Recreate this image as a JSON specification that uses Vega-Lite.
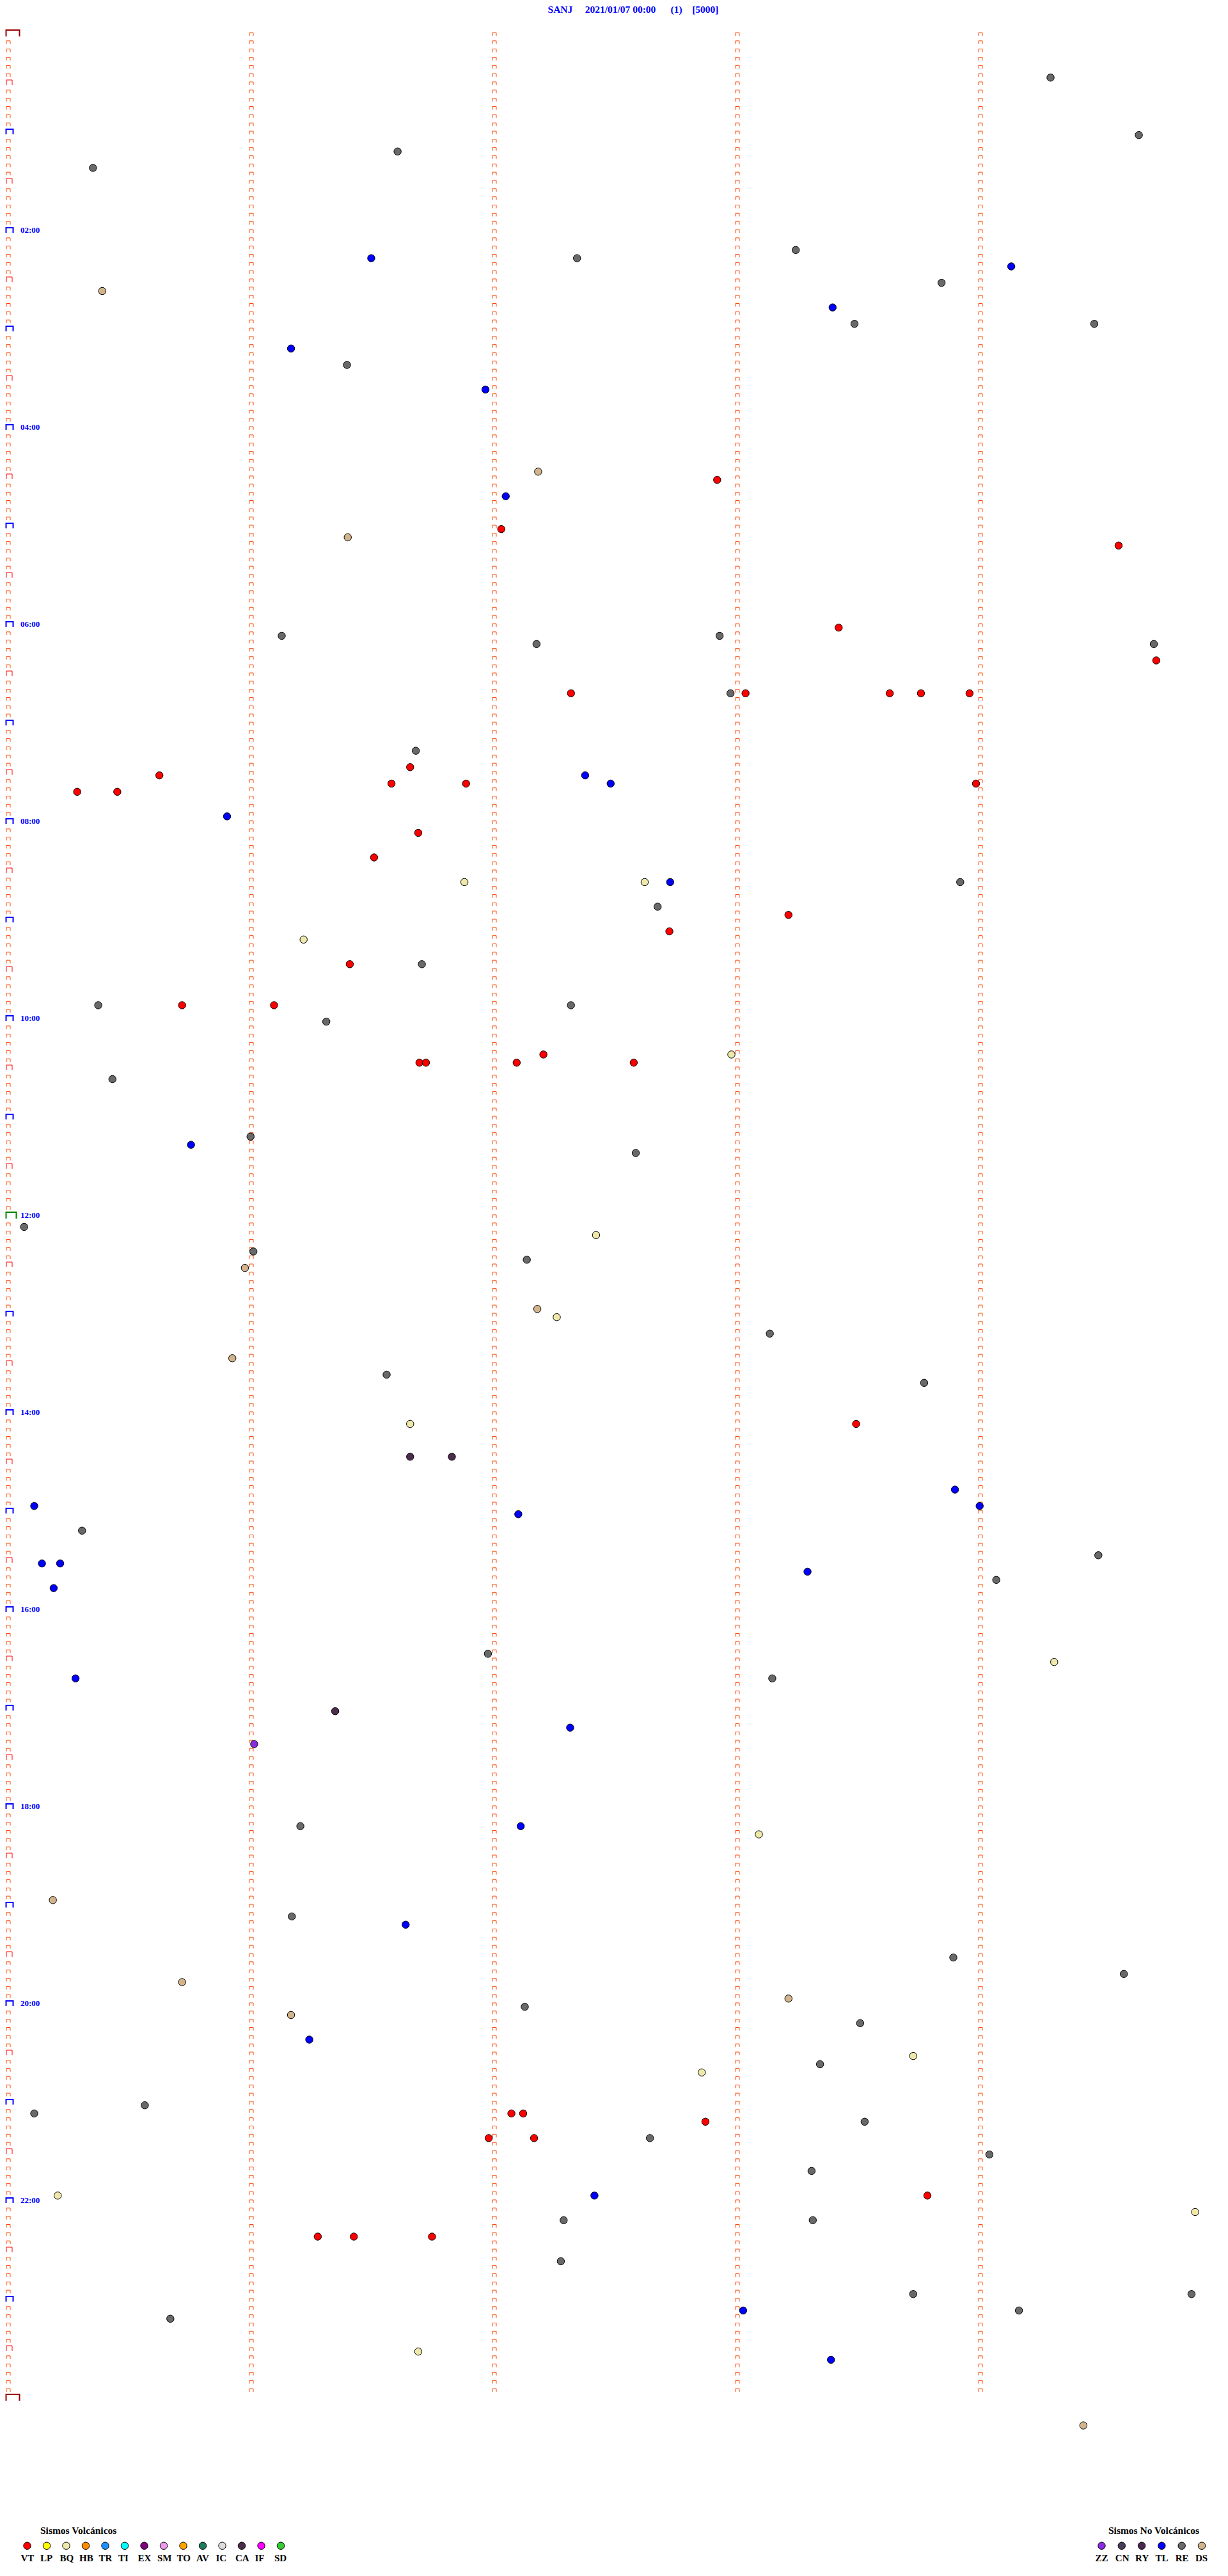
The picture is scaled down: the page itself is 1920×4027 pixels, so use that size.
{
  "$schema": "https://vega.github.io/schema/vega-lite/v6.json",
  "width": 1920,
  "height": 4027,
  "autosize": {"type": "none"},
  "padding": 0,
  "background": "white",
  "config": {"view": {"stroke": null}, "axis": {"disable": true}},
  "title": {
    "text": "SANJ\u00a0\u00a0\u00a0\u00a0\u00a02021/01/07 00:00\u00a0\u00a0\u00a0\u00a0\u00a0\u00a0(1)\u00a0\u00a0\u00a0\u00a0[5000]",
    "orient": "top", "anchor": "middle", "frame": "group", "offset": 0, "dy": 35, "baseline": "alphabetic", "dx": 30,
    "font": "Liberation Serif", "fontSize": 15.5, "fontWeight": "bold", "color": "#0000FF"
  },
  "datasets": {
    "rows": [
      {"m":0},{"m":5},{"m":10},{"m":15},{"m":20},{"m":25},{"m":30},{"m":35},{"m":40},{"m":45},{"m":50},{"m":55},
      {"m":60},{"m":65},{"m":70},{"m":75},{"m":80},{"m":85},{"m":90},{"m":95},{"m":100},{"m":105},{"m":110},{"m":115},
      {"m":120},{"m":125},{"m":130},{"m":135},{"m":140},{"m":145},{"m":150},{"m":155},{"m":160},{"m":165},{"m":170},{"m":175},
      {"m":180},{"m":185},{"m":190},{"m":195},{"m":200},{"m":205},{"m":210},{"m":215},{"m":220},{"m":225},{"m":230},{"m":235},
      {"m":240},{"m":245},{"m":250},{"m":255},{"m":260},{"m":265},{"m":270},{"m":275},{"m":280},{"m":285},{"m":290},{"m":295},
      {"m":300},{"m":305},{"m":310},{"m":315},{"m":320},{"m":325},{"m":330},{"m":335},{"m":340},{"m":345},{"m":350},{"m":355},
      {"m":360},{"m":365},{"m":370},{"m":375},{"m":380},{"m":385},{"m":390},{"m":395},{"m":400},{"m":405},{"m":410},{"m":415},
      {"m":420},{"m":425},{"m":430},{"m":435},{"m":440},{"m":445},{"m":450},{"m":455},{"m":460},{"m":465},{"m":470},{"m":475},
      {"m":480},{"m":485},{"m":490},{"m":495},{"m":500},{"m":505},{"m":510},{"m":515},{"m":520},{"m":525},{"m":530},{"m":535},
      {"m":540},{"m":545},{"m":550},{"m":555},{"m":560},{"m":565},{"m":570},{"m":575},{"m":580},{"m":585},{"m":590},{"m":595},
      {"m":600},{"m":605},{"m":610},{"m":615},{"m":620},{"m":625},{"m":630},{"m":635},{"m":640},{"m":645},{"m":650},{"m":655},
      {"m":660},{"m":665},{"m":670},{"m":675},{"m":680},{"m":685},{"m":690},{"m":695},{"m":700},{"m":705},{"m":710},{"m":715},
      {"m":720},{"m":725},{"m":730},{"m":735},{"m":740},{"m":745},{"m":750},{"m":755},{"m":760},{"m":765},{"m":770},{"m":775},
      {"m":780},{"m":785},{"m":790},{"m":795},{"m":800},{"m":805},{"m":810},{"m":815},{"m":820},{"m":825},{"m":830},{"m":835},
      {"m":840},{"m":845},{"m":850},{"m":855},{"m":860},{"m":865},{"m":870},{"m":875},{"m":880},{"m":885},{"m":890},{"m":895},
      {"m":900},{"m":905},{"m":910},{"m":915},{"m":920},{"m":925},{"m":930},{"m":935},{"m":940},{"m":945},{"m":950},{"m":955},
      {"m":960},{"m":965},{"m":970},{"m":975},{"m":980},{"m":985},{"m":990},{"m":995},{"m":1000},{"m":1005},{"m":1010},{"m":1015},
      {"m":1020},{"m":1025},{"m":1030},{"m":1035},{"m":1040},{"m":1045},{"m":1050},{"m":1055},{"m":1060},{"m":1065},{"m":1070},{"m":1075},
      {"m":1080},{"m":1085},{"m":1090},{"m":1095},{"m":1100},{"m":1105},{"m":1110},{"m":1115},{"m":1120},{"m":1125},{"m":1130},{"m":1135},
      {"m":1140},{"m":1145},{"m":1150},{"m":1155},{"m":1160},{"m":1165},{"m":1170},{"m":1175},{"m":1180},{"m":1185},{"m":1190},{"m":1195},
      {"m":1200},{"m":1205},{"m":1210},{"m":1215},{"m":1220},{"m":1225},{"m":1230},{"m":1235},{"m":1240},{"m":1245},{"m":1250},{"m":1255},
      {"m":1260},{"m":1265},{"m":1270},{"m":1275},{"m":1280},{"m":1285},{"m":1290},{"m":1295},{"m":1300},{"m":1305},{"m":1310},{"m":1315},
      {"m":1320},{"m":1325},{"m":1330},{"m":1335},{"m":1340},{"m":1345},{"m":1350},{"m":1355},{"m":1360},{"m":1365},{"m":1370},{"m":1375},
      {"m":1380},{"m":1385},{"m":1390},{"m":1395},{"m":1400},{"m":1405},{"m":1410},{"m":1415},{"m":1420},{"m":1425},{"m":1430},{"m":1435},
      {"m":1440}
    ],
    "labels": [
      {"m":120,"t":"02:00"},{"m":240,"t":"04:00"},{"m":360,"t":"06:00"},{"m":480,"t":"08:00"},
      {"m":600,"t":"10:00"},{"m":720,"t":"12:00"},{"m":840,"t":"14:00"},{"m":960,"t":"16:00"},
      {"m":1080,"t":"18:00"},{"m":1200,"t":"20:00"},{"m":1320,"t":"22:00"}
    ],
    "ev": [
      {"s":257.3,"m":27,"tipo":"RE"},{"s":279.1,"m":62,"tipo":"RE"},{"s":96.1,"m":72,"tipo":"RE"},{"s":20.9,"m":82,"tipo":"RE"},
      {"s":89.6,"m":137,"tipo":"TL"},{"s":140.4,"m":137,"tipo":"RE"},{"s":194.4,"m":132,"tipo":"RE"},{"s":247.6,"m":142,"tipo":"TL"},
      {"s":23.2,"m":157,"tipo":"DS"},{"s":230.4,"m":152,"tipo":"RE"},{"s":203.5,"m":167,"tipo":"TL"},{"s":208.9,"m":177,"tipo":"RE"},
      {"s":268.1,"m":177,"tipo":"RE"},{"s":69.8,"m":192,"tipo":"TL"},{"s":83.6,"m":202,"tipo":"RE"},{"s":117.8,"m":217,"tipo":"TL"},
      {"s":130.8,"m":267,"tipo":"DS"},{"s":175.0,"m":272,"tipo":"VT"},{"s":122.8,"m":282,"tipo":"TL"},{"s":121.7,"m":302,"tipo":"VT"},
      {"s":83.8,"m":307,"tipo":"DS"},{"s":274.1,"m":312,"tipo":"VT"},{"s":205.0,"m":362,"tipo":"VT"},{"s":67.5,"m":367,"tipo":"RE"},
      {"s":130.4,"m":372,"tipo":"RE"},{"s":175.6,"m":367,"tipo":"RE"},{"s":282.8,"m":372,"tipo":"RE"},{"s":283.4,"m":382,"tipo":"VT"},
      {"s":138.9,"m":402,"tipo":"VT"},{"s":178.3,"m":402,"tipo":"RE"},{"s":182.0,"m":402,"tipo":"VT"},{"s":217.6,"m":402,"tipo":"VT"},
      {"s":225.3,"m":402,"tipo":"VT"},{"s":237.3,"m":402,"tipo":"VT"},{"s":100.6,"m":437,"tipo":"RE"},{"s":99.2,"m":447,"tipo":"VT"},
      {"s":37.3,"m":452,"tipo":"VT"},{"s":94.6,"m":457,"tipo":"VT"},{"s":113.0,"m":457,"tipo":"VT"},{"s":142.4,"m":452,"tipo":"TL"},
      {"s":148.7,"m":457,"tipo":"TL"},{"s":238.9,"m":457,"tipo":"VT"},{"s":17.0,"m":462,"tipo":"VT"},{"s":26.9,"m":462,"tipo":"VT"},
      {"s":54.0,"m":477,"tipo":"TL"},
      {"s":101.2,"m":487,"tipo":"VT"},{"s":90.3,"m":502,"tipo":"VT"},{"s":112.6,"m":517,"tipo":"BQ"},{"s":157.1,"m":517,"tipo":"BQ"},
      {"s":163.4,"m":517,"tipo":"TL"},{"s":235.0,"m":517,"tipo":"RE"},{"s":160.3,"m":532,"tipo":"RE"},{"s":192.6,"m":537,"tipo":"VT"},
      {"s":163.2,"m":547,"tipo":"VT"},{"s":72.9,"m":552,"tipo":"BQ"},{"s":84.3,"m":567,"tipo":"VT"},{"s":102.1,"m":567,"tipo":"RE"},
      {"s":22.2,"m":592,"tipo":"RE"},{"s":42.9,"m":592,"tipo":"VT"},{"s":65.6,"m":592,"tipo":"VT"},{"s":138.9,"m":592,"tipo":"RE"},
      {"s":78.5,"m":602,"tipo":"RE"},{"s":132.1,"m":622,"tipo":"VT"},{"s":178.5,"m":622,"tipo":"BQ"},{"s":101.5,"m":627,"tipo":"VT"},
      {"s":103.1,"m":627,"tipo":"VT"},{"s":125.5,"m":627,"tipo":"VT"},{"s":154.4,"m":627,"tipo":"VT"},{"s":25.7,"m":637,"tipo":"RE"},
      {"s":59.8,"m":672,"tipo":"RE"},{"s":45.1,"m":677,"tipo":"TL"},{"s":154.9,"m":682,"tipo":"RE"},
      {"s":3.9,"m":727,"tipo":"RE"},{"s":145.1,"m":732,"tipo":"BQ"},{"s":60.5,"m":742,"tipo":"RE"},{"s":128.0,"m":747,"tipo":"RE"},
      {"s":58.4,"m":752,"tipo":"DS"},{"s":130.6,"m":777,"tipo":"DS"},{"s":135.4,"m":782,"tipo":"BQ"},{"s":188.0,"m":792,"tipo":"RE"},
      {"s":55.3,"m":807,"tipo":"DS"},{"s":93.4,"m":817,"tipo":"RE"},{"s":226.1,"m":822,"tipo":"RE"},{"s":99.2,"m":847,"tipo":"BQ"},
      {"s":209.3,"m":847,"tipo":"VT"},{"s":99.2,"m":867,"tipo":"CA"},{"s":109.5,"m":867,"tipo":"CA"},{"s":233.7,"m":887,"tipo":"TL"},
      {"s":6.4,"m":897,"tipo":"TL"},{"s":239.8,"m":897,"tipo":"TL"},{"s":125.9,"m":902,"tipo":"TL"},{"s":18.2,"m":912,"tipo":"RE"},
      {"s":269.1,"m":927,"tipo":"RE"},{"s":8.3,"m":932,"tipo":"TL"},{"s":12.8,"m":932,"tipo":"TL"},{"s":197.3,"m":937,"tipo":"TL"},
      {"s":243.9,"m":942,"tipo":"RE"},{"s":11.2,"m":947,"tipo":"TL"},
      {"s":118.4,"m":987,"tipo":"RE"},{"s":258.2,"m":992,"tipo":"BQ"},{"s":16.6,"m":1002,"tipo":"TL"},{"s":188.6,"m":1002,"tipo":"RE"},
      {"s":80.7,"m":1022,"tipo":"CA"},{"s":138.7,"m":1032,"tipo":"TL"},{"s":60.7,"m":1042,"tipo":"ZZ"},{"s":72.1,"m":1092,"tipo":"RE"},
      {"s":126.5,"m":1092,"tipo":"TL"},{"s":185.3,"m":1097,"tipo":"BQ"},{"s":11.0,"m":1137,"tipo":"DS"},{"s":70.0,"m":1147,"tipo":"RE"},
      {"s":98.1,"m":1152,"tipo":"TL"},{"s":233.3,"m":1172,"tipo":"RE"},{"s":275.4,"m":1182,"tipo":"RE"},{"s":42.9,"m":1187,"tipo":"DS"},
      {"s":192.6,"m":1197,"tipo":"DS"},{"s":127.5,"m":1202,"tipo":"RE"},
      {"s":69.8,"m":1207,"tipo":"DS"},{"s":210.3,"m":1212,"tipo":"RE"},{"s":74.3,"m":1222,"tipo":"TL"},{"s":223.4,"m":1232,"tipo":"BQ"},
      {"s":200.4,"m":1237,"tipo":"RE"},{"s":171.2,"m":1242,"tipo":"BQ"},{"s":33.7,"m":1262,"tipo":"RE"},{"s":6.4,"m":1267,"tipo":"RE"},
      {"s":124.2,"m":1267,"tipo":"VT"},{"s":127.1,"m":1267,"tipo":"VT"},{"s":172.1,"m":1272,"tipo":"VT"},{"s":211.4,"m":1272,"tipo":"RE"},
      {"s":118.6,"m":1282,"tipo":"VT"},{"s":129.8,"m":1282,"tipo":"VT"},{"s":158.4,"m":1282,"tipo":"RE"},{"s":242.2,"m":1292,"tipo":"RE"},
      {"s":198.3,"m":1302,"tipo":"RE"},{"s":12.2,"m":1317,"tipo":"BQ"},{"s":144.7,"m":1317,"tipo":"TL"},{"s":226.9,"m":1317,"tipo":"VT"},
      {"s":293.0,"m":1327,"tipo":"BQ"},{"s":137.1,"m":1332,"tipo":"RE"},{"s":198.6,"m":1332,"tipo":"RE"},{"s":76.4,"m":1342,"tipo":"VT"},
      {"s":85.3,"m":1342,"tipo":"VT"},{"s":104.6,"m":1342,"tipo":"VT"},{"s":136.4,"m":1357,"tipo":"RE"},{"s":223.4,"m":1377,"tipo":"RE"},
      {"s":292.1,"m":1377,"tipo":"RE"},{"s":181.4,"m":1387,"tipo":"TL"},{"s":249.5,"m":1387,"tipo":"RE"},{"s":40.0,"m":1392,"tipo":"RE"},
      {"s":101.2,"m":1412,"tipo":"BQ"},{"s":203.1,"m":1417,"tipo":"TL"},{"s":265.4,"m":1457,"tipo":"DS"}
    ]
  },
  "encoding": {
    "y": {"field": "m", "type": "quantitative", "scale": {"domain": [-20.26, 1548.7], "reverse": true, "nice": false, "zero": false}, "axis": null}
  },
  "layer": [
    {
      "data": {"name": "rows"},
      "transform": [{"filter": "datum.m < 1440"}],
      "mark": {"type": "point", "shape": "M-3,4L-3,-1L3,-1L3,4", "size": 4, "filled": false, "stroke": "#FF4500", "strokeWidth": 1, "opacity": 1},
      "encoding": {"x": {"datum": 60, "type": "quantitative", "scale": {"domain": [-2.053, 301.11], "nice": false, "zero": false}}}
    },
    {
      "data": {"name": "rows"},
      "transform": [{"filter": "datum.m < 1440"}],
      "mark": {"type": "point", "shape": "M-3,4L-3,-1L3,-1L3,4", "size": 4, "filled": false, "stroke": "#FF4500", "strokeWidth": 1, "opacity": 1},
      "encoding": {"x": {"datum": 120, "type": "quantitative", "scale": {"domain": [-2.053, 301.11], "nice": false, "zero": false}}}
    },
    {
      "data": {"name": "rows"},
      "transform": [{"filter": "datum.m < 1440"}],
      "mark": {"type": "point", "shape": "M-3,4L-3,-1L3,-1L3,4", "size": 4, "filled": false, "stroke": "#FF4500", "strokeWidth": 1, "opacity": 1},
      "encoding": {"x": {"datum": 180, "type": "quantitative", "scale": {"domain": [-2.053, 301.11], "nice": false, "zero": false}}}
    },
    {
      "data": {"name": "rows"},
      "transform": [{"filter": "datum.m < 1440"}],
      "mark": {"type": "point", "shape": "M-3,4L-3,-1L3,-1L3,4", "size": 4, "filled": false, "stroke": "#FF4500", "strokeWidth": 1, "opacity": 1},
      "encoding": {"x": {"datum": 240, "type": "quantitative", "scale": {"domain": [-2.053, 301.11], "nice": false, "zero": false}}}
    },
    {
      "data": {"name": "rows"},
      "transform": [{"filter": "datum.m % 30 != 0"}],
      "mark": {"type": "point", "shape": "M-3,4L-3,-1L3,-1L3,4", "size": 4, "filled": false, "stroke": "#FF4500", "strokeWidth": 1, "opacity": 1},
      "encoding": {"x": {"datum": 0, "type": "quantitative", "scale": {"domain": [-2.053, 301.11], "nice": false, "zero": false}}}
    },
    {
      "data": {"name": "rows"},
      "transform": [{"filter": "datum.m % 60 == 30"}],
      "mark": {"type": "point", "shape": "M-3,4L-3,-4L6,-4L6,4", "size": 4, "filled": false, "stroke": "#FF0000", "strokeWidth": 1, "opacity": 1},
      "encoding": {"x": {"datum": 0, "type": "quantitative", "scale": {"domain": [-2.053, 301.11], "nice": false, "zero": false}}}
    },
    {
      "data": {"name": "rows"},
      "transform": [{"filter": "datum.m % 60 == 0 && datum.m % 720 != 0"}],
      "mark": {"type": "point", "shape": "M-3.5,4L-3.5,-4L7.5,-4L7.5,4", "size": 4, "filled": false, "stroke": "#0000FF", "strokeWidth": 2, "opacity": 1},
      "encoding": {"x": {"datum": 0, "type": "quantitative", "scale": {"domain": [-2.053, 301.11], "nice": false, "zero": false}}}
    },
    {
      "data": {"name": "rows"},
      "transform": [{"filter": "datum.m == 720"}],
      "mark": {"type": "point", "shape": "M-3.5,5L-3.5,-5L12.5,-5L12.5,5", "size": 4, "filled": false, "stroke": "#008000", "strokeWidth": 2, "opacity": 1},
      "encoding": {"x": {"datum": 0, "type": "quantitative", "scale": {"domain": [-2.053, 301.11], "nice": false, "zero": false}}}
    },
    {
      "data": {"name": "rows"},
      "transform": [{"filter": "datum.m == 0 || datum.m == 1440"}],
      "mark": {"type": "point", "shape": "M-3.5,5L-3.5,-5L17.5,-5L17.5,5", "size": 4, "filled": false, "stroke": "#990000", "strokeWidth": 2, "opacity": 1},
      "encoding": {"x": {"datum": 0, "type": "quantitative", "scale": {"domain": [-2.053, 301.11], "nice": false, "zero": false}}}
    },
    {
      "data": {"name": "labels"},
      "mark": {"type": "text", "align": "left", "baseline": "middle", "dx": 19, "font": "Liberation Serif", "fontSize": 13, "fontWeight": "bold", "color": "#0000FF"},
      "encoding": {"x": {"datum": 0, "type": "quantitative", "scale": {"domain": [-2.053, 301.11], "nice": false, "zero": false}}, "text": {"field": "t"}}
    },
    {
      "data": {"name": "ev"},
      "transform": [{"filter": {"field": "tipo", "oneOf": ["VT","LP","BQ","HB","TR","TI","EX","SM","TO","AV","IC","CA","IF","SD"]}}],
      "mark": {"type": "point", "shape": "circle", "filled": true, "size": 130, "stroke": "black", "strokeWidth": 1, "opacity": 1},
      "encoding": {
        "x": {"field": "s", "type": "quantitative", "scale": {"domain": [-2.053, 301.11], "nice": false, "zero": false}, "axis": null},
        "fill": {
          "field": "tipo", "type": "nominal",
          "scale": {
            "domain": ["VT","LP","BQ","HB","TR","TI","EX","SM","TO","AV","IC","CA","IF","SD"],
            "range": ["#FF0000","#FFFF00","#EEE8AA","#FF8C00","#1E90FF","#00FFFF","#800080","#EE99EE","#FFA500","#1E7B5E","#DCDCDC","#4B2D4B","#FF00FF","#32CD32"]
          },
          "legend": {
            "title": "Sismos Volcánicos",
            "orient": "none", "legendX": 35, "legendY": 3948.5,
            "direction": "horizontal", "columns": 14, "gridAlign": "all", "columnPadding": 7.5, "rowPadding": 0, "padding": 0,
            "symbolType": "circle", "symbolSize": 130, "symbolStrokeColor": "black", "symbolStrokeWidth": 1, "symbolOpacity": 1,
            "labelFont": "Liberation Serif", "labelFontSize": 15, "labelFontWeight": "bold", "labelColor": "black",
            "labelAlign": "left", "labelBaseline": "middle", "labelOffset": -17.5,
            "titleFont": "Liberation Serif", "titleFontSize": 15.5, "titleFontWeight": "bold", "titleColor": "black",
            "titleAnchor": "start", "titlePadding": 8, "titleBaseline": "top",
            "encode": {"labels": {"update": {"dy": {"value": 19}}}, "title": {"update": {"dx": {"value": 28}}}}
          }
        }
      }
    },
    {
      "data": {"name": "ev"},
      "transform": [{"filter": {"field": "tipo", "oneOf": ["ZZ","CN","RY","TL","RE","DS"]}}],
      "mark": {"type": "point", "shape": "circle", "filled": true, "size": 130, "stroke": "black", "strokeWidth": 1, "opacity": 1},
      "encoding": {
        "x": {"field": "s", "type": "quantitative", "scale": {"domain": [-2.053, 301.11], "nice": false, "zero": false}, "axis": null},
        "fill": {
          "field": "tipo", "type": "nominal",
          "scale": {
            "domain": ["ZZ","CN","RY","TL","RE","DS"],
            "range": ["#8A2BE2","#483D5B","#4B2850","#0000FF","#696969","#D2B48C"]
          },
          "legend": {
            "title": "Sismos No Volcánicos",
            "orient": "none", "legendX": 1715, "legendY": 3948.5,
            "direction": "horizontal", "columns": 6, "gridAlign": "all", "columnPadding": 8.3, "rowPadding": 0, "padding": 0,
            "symbolType": "circle", "symbolSize": 130, "symbolStrokeColor": "black", "symbolStrokeWidth": 1, "symbolOpacity": 1,
            "labelFont": "Liberation Serif", "labelFontSize": 15, "labelFontWeight": "bold", "labelColor": "black",
            "labelAlign": "left", "labelBaseline": "middle", "labelOffset": -17.5,
            "titleFont": "Liberation Serif", "titleFontSize": 15.5, "titleFontWeight": "bold", "titleColor": "black",
            "titleAnchor": "start", "titlePadding": 8, "titleBaseline": "top",
            "encode": {"labels": {"update": {"dy": {"value": 19}}}, "title": {"update": {"dx": {"value": 18}}}}
          }
        }
      }
    }
  ],
  "resolve": {"scale": {"fill": "independent"}}
}
